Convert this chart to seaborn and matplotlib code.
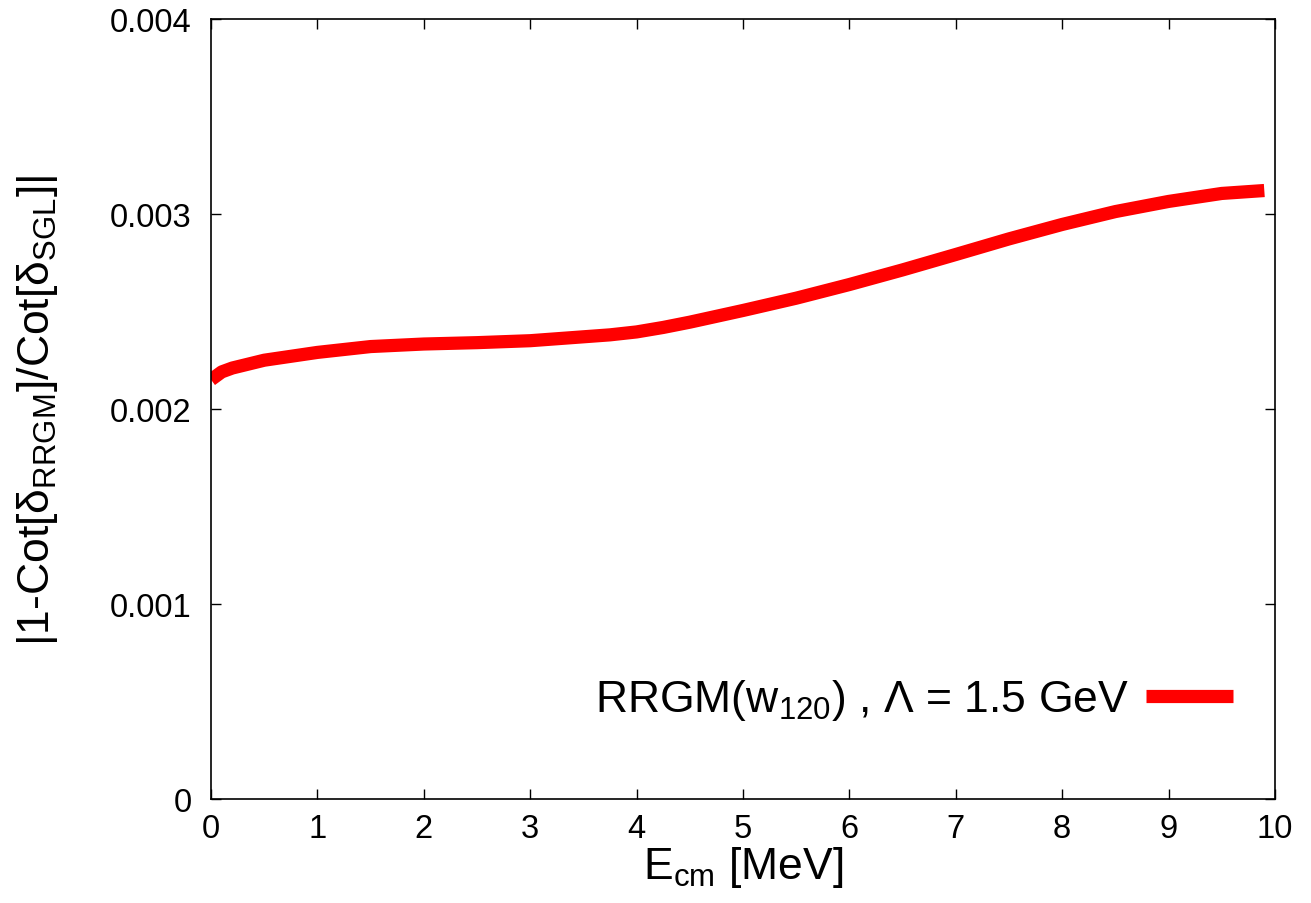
import numpy as np
import pandas as pd
import matplotlib
matplotlib.use("Agg")
import matplotlib.pyplot as plt
import seaborn as sns

# curve
energy = [0.0, 0.1, 0.2, 0.5, 1.0, 1.5, 2.0, 2.5, 3.0, 3.5, 3.75, 4.0,
          4.25, 4.5, 5.0, 5.5, 6.0, 6.5, 7.0, 7.5, 8.0, 8.5, 9.0, 9.5, 9.9]
ratio = [0.00215, 0.00219, 0.00221, 0.00225, 0.00229, 0.00232, 0.002333,
         0.00234, 0.00235, 0.00237, 0.00238, 0.002395, 0.002418, 0.002445,
         0.002505, 0.002568, 0.002638, 0.002713, 0.002792, 0.002872,
         0.002946, 0.003012, 0.003064, 0.003105, 0.00312]
x_ticks = [0, 1, 2, 3, 4, 5, 6, 7, 8, 9, 10]
y_ticks = [0, 0.001, 0.002, 0.003, 0.004]
y_tick_labels = ["0", "0.001", "0.002", "0.003", "0.004"]
series_label = r"RRGM(w$_{\rm 120}$) , Λ = 1.5 GeV"

sns.set_theme(style="ticks")
plt.rcParams.update({
    "font.family": ["Liberation Sans", "DejaVu Sans"],
    "mathtext.fontset": "custom",
    "mathtext.rm": "Liberation Sans",
    "mathtext.it": "Liberation Sans:italic",
    "mathtext.bf": "Liberation Sans:bold",
    "axes.edgecolor": "black",
    "axes.labelcolor": "black",
    "text.color": "black",
    "axes.linewidth": 1.2,
})

df = pd.DataFrame({"E": energy, "r": ratio})

fig = plt.figure(figsize=(13.11, 9.04), dpi=100)
ax = fig.add_axes([0.161, 0.115, 0.8115, 0.863])

sns.lineplot(data=df, x="E", y="r", ax=ax, color="#ff0000",
             linewidth=9.5, label=series_label, solid_capstyle="butt")

ax.set_xlim(0, 10)
ax.set_ylim(0, 0.004)
ax.set_xticks(x_ticks)
ax.set_yticks(y_ticks)
ax.set_yticklabels(y_tick_labels)
ax.tick_params(direction="in", length=7, width=1.0, top=True, right=True,
               labelsize=23.5, colors="black")
ax.tick_params(axis="x", pad=10)
ax.tick_params(axis="y", pad=14)

ax.set_xlabel(r"E$_{\rm cm}$ [MeV]", fontsize=32, labelpad=0)
ax.set_ylabel(r"|1-Cot[δ$_{\rm RRGM}$]/Cot[δ$_{\rm SGL}$]|",
              fontsize=32, labelpad=36)

for s in ax.spines.values():
    s.set_visible(True)
    s.set_color("black")

ax.legend(loc="center right", bbox_to_anchor=(0.9605, 0.127),
          frameon=False, fontsize=32, markerfirst=False,
          handlelength=1.95, handletextpad=0.4, borderpad=0,
          borderaxespad=0)

fig.savefig("out.png", dpi=100, facecolor="white")
